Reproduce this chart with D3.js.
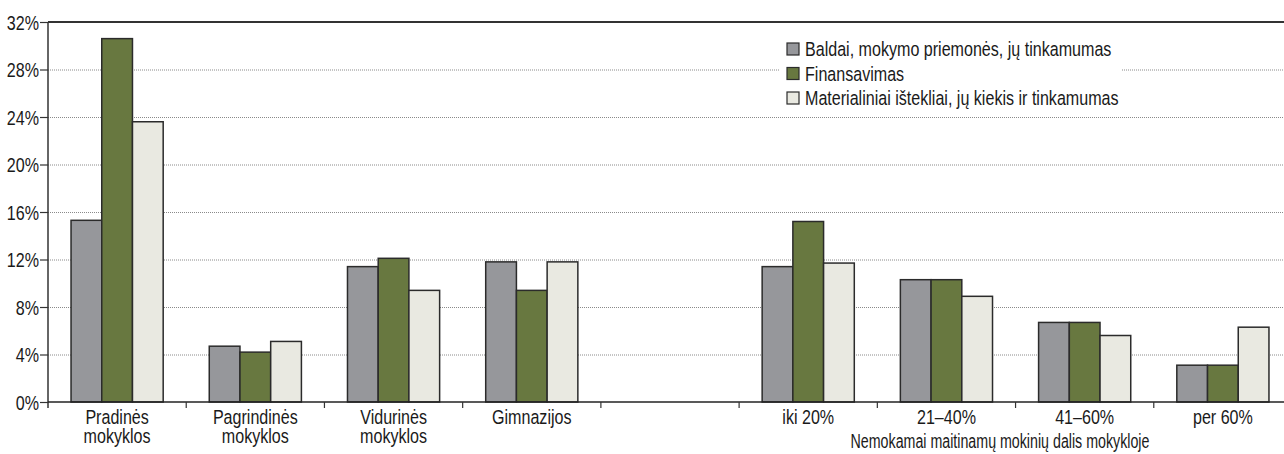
<!DOCTYPE html>
<html>
<head>
<meta charset="utf-8">
<script src="https://cdn.jsdelivr.net/npm/d3@7/dist/d3.min.js"></script>
<style>
  body { margin: 0; background: #fff; }
  svg { display: block; font-family: "Liberation Sans", Arial, sans-serif; }
</style>
</head>
<body>
<svg width="1284" height="454"></svg>
<script>
// data
var categories = ["Pradinės\nmokyklos", "Pagrindinės\nmokyklos", "Vidurinės\nmokyklos", "Gimnazijos", "",
                  "iki 20%", "21–40%", "41–60%", "per 60%"];
var series = ["Baldai, mokymo priemonės, jų tinkamumas", "Finansavimas", "Materialiniai ištekliai, jų kiekis ir tinkamumas"];
var baldai    = [15.3, 4.7, 11.4, 11.8, null, 11.4, 10.3, 6.7, 3.1];
var finansai  = [30.6, 4.2, 12.1,  9.4, null, 15.2, 10.3, 6.7, 3.1];
var istekliai = [23.6, 5.1,  9.4, 11.8, null, 11.7,  8.9, 5.6, 6.3];
var yTicks = [0, 4, 8, 12, 16, 20, 24, 28, 32];
var axisTitle = "Nemokamai maitinamų mokinių dalis mokykloje";

var colors = ["#96979b", "#687840", "#e9e9e1"];
var values = [baldai, finansai, istekliai];

// the font in the picture is a condensed grotesque: squeeze Liberation Sans
var fs = 19.5, sx = 0.825;

var svg = d3.select("svg"),
    margin = {top: 22, left: 48, bottom: 402, right: 1292};

var x0 = d3.scaleBand()
    .domain(d3.range(categories.length))
    .range([margin.left, margin.right])
    .padding(0);

var x1 = d3.scaleBand()
    .domain(d3.range(series.length))
    .range([0, x0.bandwidth()])
    .paddingInner(0)
    .paddingOuter(0.75);

var y = d3.scaleLinear()
    .domain([0, 32])
    .range([margin.bottom, margin.top]);

// gridlines
svg.append("g")
    .selectAll("line")
    .data(yTicks.slice(1, -1))
    .enter()
        .append("line")
        .attr("x1", margin.left)
        .attr("x2", margin.right)
        .attr("y1", function(d) { return y(d) + 0.5; })
        .attr("y2", function(d) { return y(d) + 0.5; })
        .attr("stroke", "#8a8a8a")
        .attr("stroke-width", 1)
        .attr("stroke-dasharray", "1,1");

// legend background hides gridlines
var legend = svg.append("g").attr("transform", "translate(780,33)");
legend.append("rect")
    .attr("width", 342)
    .attr("height", 79)
    .attr("fill", "#fff");

// bars
var rows = categories.map(function(c, i) {
    return series.map(function(s, j) { return {cat: i, ser: j, v: values[j][i]}; });
});

svg.append("g")
    .selectAll("g")
    .data(rows)
    .enter()
        .append("g")
        .attr("transform", function(d, i) { return "translate(" + x0(i) + ",0)"; })
        .selectAll("rect")
        .data(function(d) { return d.filter(function(e) { return e.v != null; }); })
        .enter()
            .append("rect")
            .attr("x", function(d) { return x1(d.ser); })
            .attr("width", x1.bandwidth())
            .attr("y", function(d) { return y(d.v); })
            .attr("height", function(d) { return y(0) - y(d.v); })
            .attr("fill", function(d) { return colors[d.ser]; })
            .attr("stroke", "#2b2b2b")
            .attr("stroke-width", 1.5);

// top frame line
svg.append("line")
    .attr("x1", margin.left).attr("x2", margin.right)
    .attr("y1", margin.top).attr("y2", margin.top)
    .attr("stroke", "#333").attr("stroke-width", 2);

// y axis
var yAxis = d3.axisLeft(y)
    .tickValues(yTicks)
    .tickSize(8)
    .tickPadding(1)
    .tickFormat(function(d) { return d + "%"; });

var ya = svg.append("g")
    .attr("transform", "translate(" + margin.left + ",0)")
    .call(yAxis)
    .attr("font-family", null)
    .attr("font-size", fs);
ya.select(".domain").remove();
ya.selectAll("line").attr("stroke", "#333").attr("stroke-width", 1.2);
ya.selectAll("text")
    .attr("fill", "#1a1a1a")
    .attr("x", -9 / sx)
    .attr("dy", "0.36em")
    .attr("transform", "scale(" + sx + ",1)");

svg.append("line")
    .attr("x1", margin.left).attr("x2", margin.left)
    .attr("y1", margin.top).attr("y2", margin.bottom + 6)
    .attr("stroke", "#333").attr("stroke-width", 1.5);

// x axis
svg.append("line")
    .attr("x1", margin.left).attr("x2", margin.right)
    .attr("y1", margin.bottom).attr("y2", margin.bottom)
    .attr("stroke", "#222").attr("stroke-width", 1.5);

svg.append("g")
    .selectAll("line")
    .data(d3.range(1, categories.length))
    .enter()
        .append("line")
        .attr("x1", function(d) { return x0(d); })
        .attr("x2", function(d) { return x0(d); })
        .attr("y1", margin.bottom)
        .attr("y2", margin.bottom + 6)
        .attr("stroke", "#333")
        .attr("stroke-width", 1.2);

svg.append("g")
    .selectAll("text")
    .data(categories)
    .enter()
        .append("text")
        .attr("text-anchor", "middle")
        .attr("font-size", fs)
        .attr("fill", "#1a1a1a")
        .attr("transform", function(d, i) {
            return "translate(" + (x0(i) + x0.bandwidth() / 2) + ",424) scale(" + sx + ",1)";
        })
        .each(function(d) {
            var item = d3.select(this);
            d.split("\n").forEach(function(line, k) {
                item.append("tspan")
                    .attr("x", 0)
                    .attr("y", k * fs)
                    .text(line);
            });
        });

svg.append("text")
    .attr("transform", "translate(1000,448) scale(0.73,1)")
    .attr("text-anchor", "middle")
    .attr("font-size", fs)
    .attr("fill", "#1a1a1a")
    .text(axisTitle);

// legend entries
var item = legend.selectAll(".item")
    .data(series)
    .enter()
        .append("g")
        .attr("class", "item")
        .attr("transform", function(d, i) { return "translate(7," + (16 + i * 24.5) + ")"; });

item.append("rect")
    .attr("x", 0)
    .attr("y", -6)
    .attr("width", 12)
    .attr("height", 12)
    .attr("fill", function(d, i) { return colors[i]; })
    .attr("stroke", "#2b2b2b")
    .attr("stroke-width", 1.2);

item.append("text")
    .attr("transform", "translate(18,7) scale(" + sx + ",1)")
    .attr("font-size", fs)
    .attr("fill", "#1a1a1a")
    .text(function(d) { return d; });
</script>
</body>
</html>
